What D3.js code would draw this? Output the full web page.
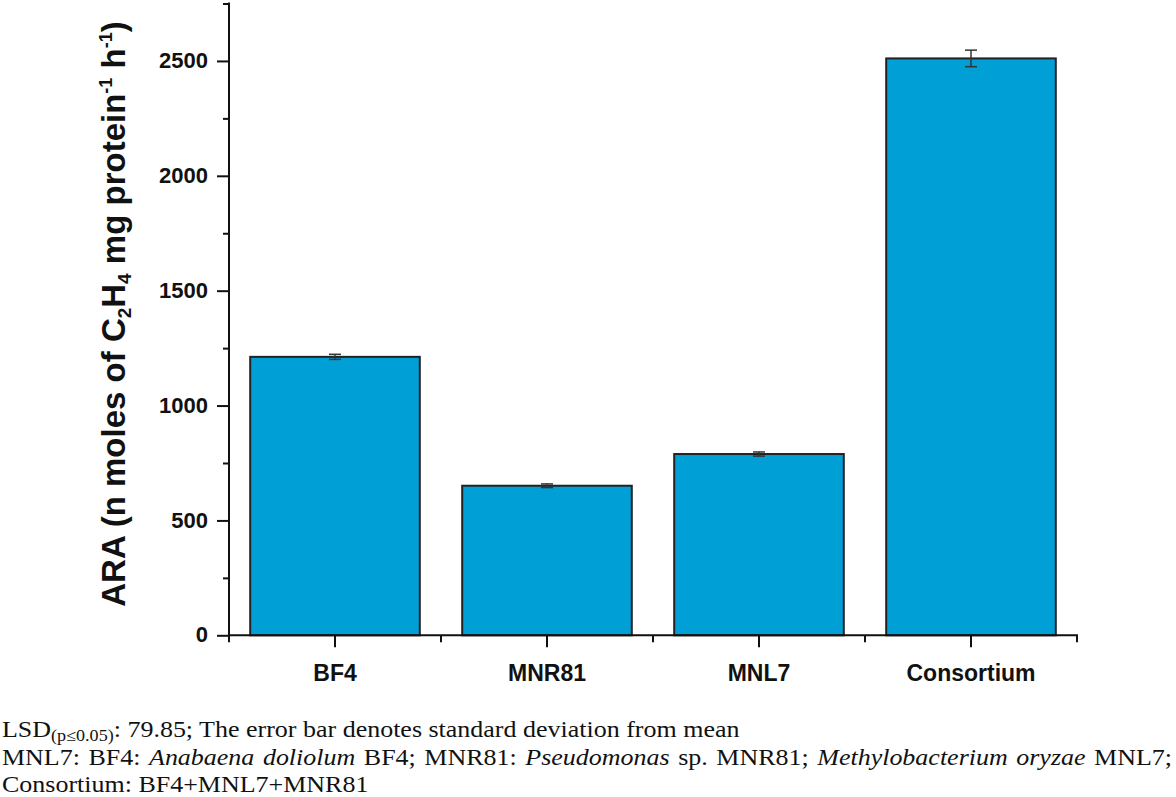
<!DOCTYPE html>
<html><head><meta charset="utf-8">
<script src="https://cdn.jsdelivr.net/npm/d3@7"></script>
<style>body{margin:0;background:#fff}svg{display:block}</style></head>
<body><svg id="c" width="1176" height="797"></svg>
<script>
const categories = ["BF4", "MNR81", "MNL7", "Consortium"];
const values = [1212, 651, 789, 2511];
const errors = [11, 8, 9, 36];
const yTicks = [0, 500, 1000, 1500, 2000, 2500];
const yMinorTicks = [250, 750, 1250, 1750, 2250, 2750];
const yDomain = [0, 2750];

(function () {
const svg = d3.select("#c");
const pLeft = 229, pRight = 1077, pTop = 3.5, pBottom = 635.3;
const y = d3.scaleLinear().domain(yDomain).range([pBottom, pTop]);
const x = d3.scaleBand().domain(categories).range([pLeft, pRight]).paddingInner(0.2).paddingOuter(0.1);
const step = x.step();

// bars
svg.append("g").selectAll("rect").data(categories).join("rect")
  .attr("x", d => x(d)).attr("width", x.bandwidth())
  .attr("y", (d, i) => y(values[i])).attr("height", (d, i) => y(0) - y(values[i]))
  .attr("fill", "#009fd6").attr("stroke", "#222").attr("stroke-width", 2);

// error bars
const eg = svg.append("g").attr("stroke", "#333").attr("stroke-width", 1.5);
categories.forEach((c, i) => {
  const cx = x(c) + x.bandwidth() / 2;
  const y1 = y(values[i] + errors[i]), y2 = y(values[i] - errors[i]);
  eg.append("line").attr("x1", cx).attr("x2", cx).attr("y1", y1).attr("y2", y2);
  eg.append("line").attr("x1", cx - 6).attr("x2", cx + 6).attr("y1", y1).attr("y2", y1);
  eg.append("line").attr("x1", cx - 6).attr("x2", cx + 6).attr("y1", y2).attr("y2", y2);
});

// y axis
const yAxis = svg.append("g").attr("transform", `translate(${pLeft},0)`)
  .call(d3.axisLeft(y).tickValues(yTicks).tickSize(12).tickPadding(9).tickFormat(d3.format("d")));
yAxis.select(".domain").remove();
yAxis.selectAll("line").attr("stroke", "#111").attr("stroke-width", 2);
yAxis.selectAll("text").attr("font-family", "Liberation Sans, Arial, sans-serif")
  .attr("font-weight", "bold").attr("font-size", 22).attr("fill", "#111").attr("dy", "0.3em");
const yMinor = svg.append("g").attr("transform", `translate(${pLeft},0)`)
  .call(d3.axisLeft(y).tickValues(yMinorTicks).tickSize(6).tickFormat(""));
yMinor.select(".domain").remove();
yMinor.selectAll("line").attr("stroke", "#111").attr("stroke-width", 2);

// x axis
const xAxis = svg.append("g").attr("transform", `translate(0,${pBottom})`)
  .call(d3.axisBottom(x).tickSize(12).tickPadding(10));
xAxis.select(".domain").remove();
xAxis.selectAll("line").attr("stroke", "#111").attr("stroke-width", 2);
xAxis.selectAll("text").attr("font-family", "Liberation Sans, Arial, sans-serif")
  .attr("font-weight", "bold").attr("font-size", 23).attr("fill", "#111").attr("dy", "1.05em");
// minor x ticks at band boundaries
const bounds = d3.range(categories.length + 1).map(k => pLeft + k * step);
svg.append("g").selectAll("line").data(bounds).join("line")
  .attr("x1", d => d).attr("x2", d => d).attr("y1", pBottom).attr("y2", pBottom + 7)
  .attr("stroke", "#111").attr("stroke-width", 2);

// axis lines
svg.append("line").attr("x1", pLeft).attr("x2", pLeft).attr("y1", pTop - 1).attr("y2", pBottom + 1)
  .attr("stroke", "#111").attr("stroke-width", 2);
svg.append("line").attr("x1", pLeft - 1).attr("x2", pRight + 1).attr("y1", pBottom).attr("y2", pBottom)
  .attr("stroke", "#111").attr("stroke-width", 2);

// y title
const yt = svg.append("text")
  .attr("transform", `translate(125,314) rotate(-90)`)
  .attr("text-anchor", "middle")
  .attr("font-family", "Liberation Sans, Arial, sans-serif").attr("font-weight", "bold")
  .attr("font-size", 33).attr("fill", "#111");
yt.append("tspan").text("ARA (n moles of C");
yt.append("tspan").attr("font-size", 19).attr("dy", 6).text("2");
yt.append("tspan").attr("dy", -6).text("H");
yt.append("tspan").attr("font-size", 19).attr("dy", 6).text("4");
yt.append("tspan").attr("dy", -6).text(" mg protein");
yt.append("tspan").attr("font-size", 18).attr("dy", -13).text("-1");
yt.append("tspan").attr("dy", 13).text(" h");
yt.append("tspan").attr("font-size", 18).attr("dy", -13).text("-1");
yt.append("tspan").attr("dy", 13).text(")");

// footnote
const serif = "Liberation Serif, Times New Roman, serif";
const sx = 1.13, fs = 23;
const l1 = svg.append("text").attr("transform", `translate(2,737) scale(${sx},1)`).attr("font-family", serif)
  .attr("font-size", fs).attr("fill", "#111");
l1.append("tspan").text("LSD");
l1.append("tspan").attr("font-size", 16).attr("dy", 4).text("(p\u22640.05)");
l1.append("tspan").attr("dy", -4).text(": 79.85; The error bar denotes standard deviation from mean");

const l2parts = [
  ["MNL7: BF4: ", false], ["Anabaena doliolum", true], [" BF4; MNR81: ", false],
  ["Pseudomonas", true], [" sp. MNR81; ", false], ["Methylobacterium oryzae", true], [" MNL7;", false]
];
const l2 = svg.append("text").attr("transform", `translate(2,765) scale(${sx},1)`).attr("font-family", serif)
  .attr("font-size", fs).attr("fill", "#111").style("white-space", "pre");
l2parts.forEach(p => l2.append("tspan").attr("font-style", p[1] ? "italic" : "normal").text(p[0]));
const natural = l2.node().getComputedTextLength();
const nSpaces = l2parts.map(p => p[0]).join("").split(" ").length - 1;
const ws = ((1172 - 2) / sx - natural) / nSpaces;
if (ws > 0) l2.attr("word-spacing", ws);

svg.append("text").attr("transform", `translate(2,792) scale(${sx},1)`).attr("font-family", serif)
  .attr("font-size", fs).attr("fill", "#111").text("Consortium: BF4+MNL7+MNR81");
})();
</script></body></html>
